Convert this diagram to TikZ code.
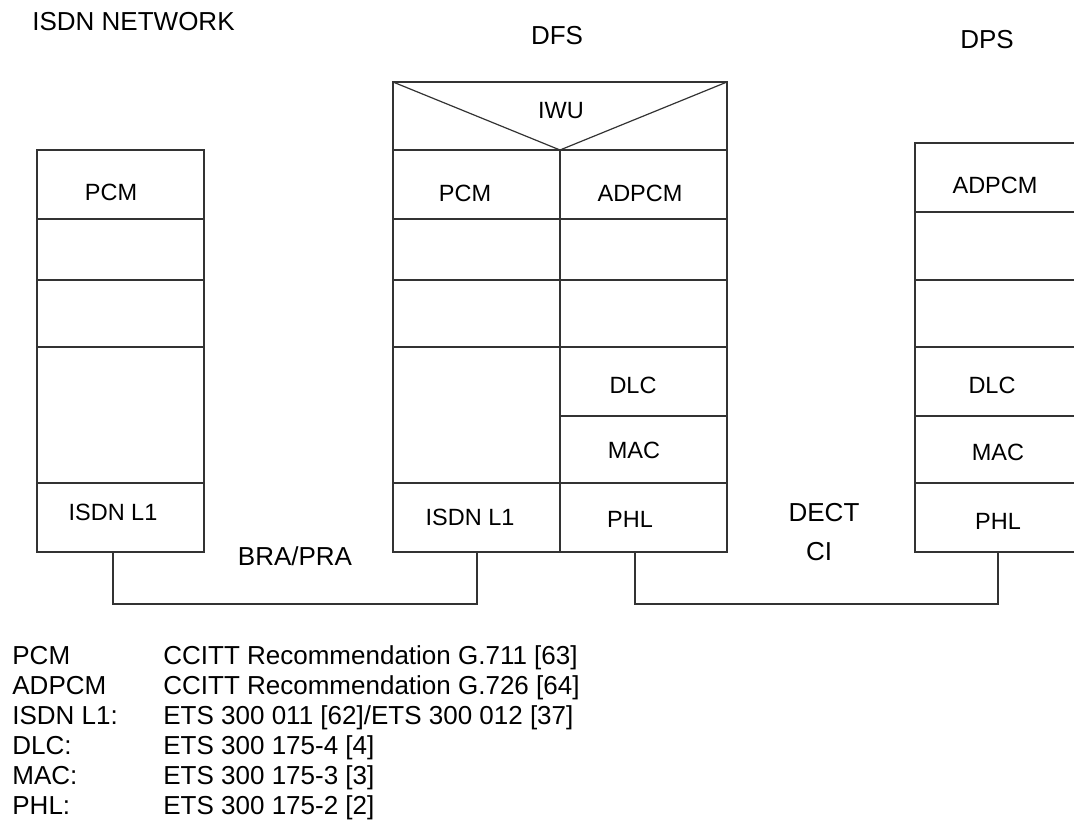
\documentclass[tikz,border=0pt]{standalone}
\usepackage{fontspec}
\setmainfont{Liberation Sans}
\tikzset{
    layer/.style={draw=black!80, line width=0.6pt},
    lbl/.style={inner sep=0pt, font=\fontsize{11.75}{14}\selectfont},
    big/.style={inner sep=0pt, font=\fontsize{13}{15}\selectfont}
}
\begin{document}
\begin{tikzpicture}[x=0.5pt, y=-0.5pt]
            \useasboundingbox(0, 0)rectangle(1074, 820);
            \clip(0, 0)rectangle(1074, 820);
            % ISDN network
            \draw[layer](37, 150)rectangle(204, 552);
            \foreach \y in {219, 280, 347, 483}\draw[layer](37, \y)--(204, \y);
            % DFS
            \draw[layer](393, 82)rectangle(727, 552);
            \draw[layer](393, 82)--(560, 150)--(727, 82);
            \draw[layer](393, 150)--(727, 150);
            \draw[layer](560, 150)--(560, 552);
            \foreach \y in {219, 280, 347, 483}\draw[layer](393, \y)--(727, \y);
            \draw[layer](560, 416)--(727, 416);
            % DPS
            \draw[layer](915, 143)rectangle(1081, 552);
            \foreach \y in {212, 280, 347, 416, 483}\draw[layer](915, \y)--(1081, \y);
            % links
            \coordinate(isdnA)at(113, 552);
            \coordinate(isdnB)at(477, 552);
            \coordinate(phlB)at(635, 552);
            \coordinate(phlC)at(998, 552);
            \draw[layer](isdnA)--++(0, 52)-|(isdnB);
            \draw[layer](phlB)--++(0, 52)-|(phlC);
            % titles
            \node[big, anchor=base west](net)at(32, 30){ISDN NETWORK};
            \node[big, anchor=base](dfs)at(557, 44){DFS};
            \node[big, anchor=base](dps)at(987, 48){DPS};
            % layer names
            \node[lbl](iwu)at(561, 111){IWU};
            \node[lbl](pcmA)at(111, 192){PCM};
            \node[lbl](isdnlA)at(113, 512){ISDN L1};
            \node[lbl](pcmB)at(465, 193){PCM};
            \node[lbl](adpcmB)at(640, 193){ADPCM};
            \node[lbl](dlcB)at(633, 385){DLC};
            \node[lbl](macB)at(634, 450){MAC};
            \node[lbl](isdnlB)at(470, 517){ISDN L1};
            \node[lbl](phlBt)at(630, 519){PHL};
            \node[lbl](adpcmC)at(995, 185){ADPCM};
            \node[lbl](dlcC)at(992, 385){DLC};
            \node[lbl](macC)at(998, 452){MAC};
            \node[lbl](phlCt)at(998, 521){PHL};
            \node[big](dect)at(824, 513){DECT};
            \node[big](ci)at(819, 552){CI};
            \node[big](bra)at(295, 556){BRA/PRA};
            % legend
            \foreach \k/\a/\b in {0/PCM/CCITT Recommendation G.711 [63], 1/ADPCM/CCITT Recommendation G.726 [64], 2/ISDN L1:/ETS 300 011 [62]\slash ETS 300 012 [37], 3/DLC:/ETS 300 175-4 [4], 4/MAC:/ETS 300 175-3 [3], 5/PHL:/ETS 300 175-2 [2]}{
                \node[big, anchor=base west](key\k)at(12, 664+30*\k){\a};
                \node[big, anchor=base west](ref\k)at(163, 664+30*\k){\b};
            }
        \end{tikzpicture}
\end{document}
